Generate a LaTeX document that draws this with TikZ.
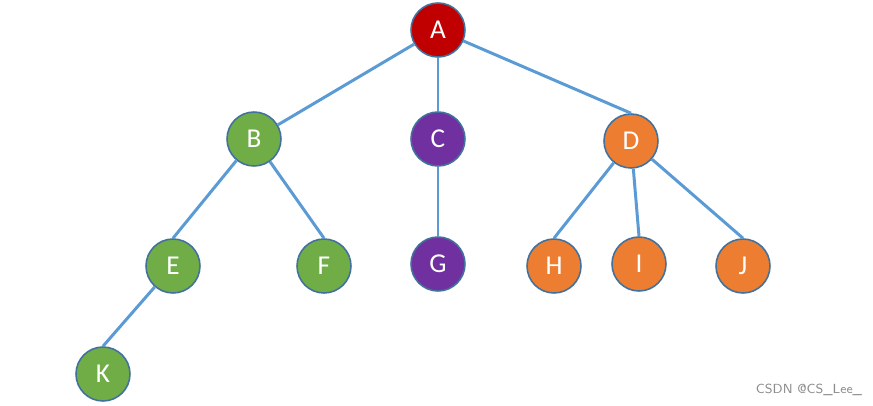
\documentclass[tikz,border=0pt]{standalone}
\usepackage{fontspec}
\setmainfont{Carlito}
\usepackage{tikz}
\usetikzlibrary{positioning}

\definecolor{edgeblue}{HTML}{5B9BD5}
\definecolor{rimblue}{HTML}{41719C}
\definecolor{rootred}{HTML}{C00000}
\definecolor{leafgreen}{HTML}{70AD47}
\definecolor{midpurple}{HTML}{7030A0}
\definecolor{sideorange}{HTML}{ED7D31}

\begin{document}
\begin{tikzpicture}[x=0.02cm, y=-0.02cm,
                    vertex/.style={draw=rimblue, line width=0.9pt, circle,
                                   minimum size=1.08cm, inner sep=0,
                                   text=white, font=\fontsize{15.5}{15.5}\selectfont},
                    link/.style={edgeblue, line width=1.7pt}
                    ]
        \useasboundingbox (0,0) rectangle (873,406);
        % nodes
        \node[vertex, fill=rootred]    (A) at (438,30)  {A};
        \node[vertex, fill=leafgreen]  (B) at (254,139) {B};
        \node[vertex, fill=midpurple]  (C) at (438,139) {C};
        \node[vertex, fill=sideorange] (D) at (631,141) {D};
        \node[vertex, fill=leafgreen]  (E) at (173,266) {E};
        \node[vertex, fill=leafgreen]  (F) at (324,266) {F};
        \node[vertex, fill=midpurple]  (G) at (438,264) {G};
        \node[vertex, fill=sideorange] (H) at (554,266) {H};
        \node[vertex, fill=sideorange] (I) at (639,264) {I};
        \node[vertex, fill=sideorange] (J) at (743,266) {J};
        \node[vertex, fill=leafgreen]  (K) at (103,374) {K};

        % edges
        \draw[link] (A) -- (B);
        \foreach \p/\c in {A/C, A/D, B/E, B/F, C/G, D/H, D/I, D/J, E/K}
            \draw[link] (\p) -- (\c.north);

        \node[text=black!45, font=\fontsize{7.5}{7.5}\selectfont\sffamily] (mark) at (809,390) {CSDN @CS\_Lee\_};
    \end{tikzpicture}
\end{document}
